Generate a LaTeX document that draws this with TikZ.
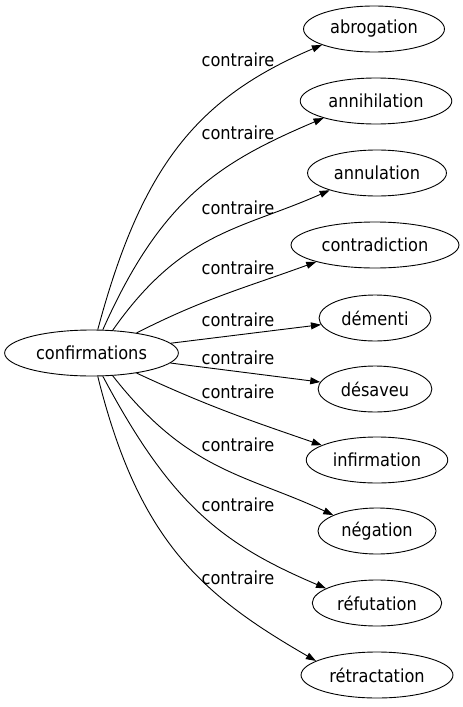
\documentclass[tikz,border=0pt]{standalone}
\usepackage{fontspec}
\setmainfont{DejaVu Sans}[FakeStretch=0.9]
\usetikzlibrary{arrows.meta, shapes.geometric}

\begin{document}
\begin{tikzpicture}
        [ x=1pt, y=1pt
        , word/.style={draw, ellipse, line width=0.9pt, inner xsep=6pt, inner ysep=2pt, minimum height=46pt, font=\fontsize{18}{20}\selectfont}
        , lbl/.style={font=\fontsize{18}{20}\selectfont}
        , rel/.style={-{Triangle[length=10pt,width=7pt]}, line width=0.9pt}
        , bent/.style={out looseness=1.2, in looseness=0.95}
        ]
        \useasboundingbox (0,0) rectangle (463,-707);

        \node (conf) [word] at (91.5,-353) {confirmations};

        \node (abro) [word] at (374,-29)  {abrogation};
        \node (anni) [word] at (376,-101) {annihilation};
        \node (annu) [word] at (377,-173) {annulation};
        \node (cont) [word] at (375,-245) {contradiction};
        \node (deme) [word] at (375,-318) {démenti};
        \node (desa) [word] at (375,-389) {désaveu};
        \node (infi) [word] at (377,-460) {infirmation};
        \node (nega) [word] at (377,-531) {négation};
        \node (refu) [word] at (377,-603) {réfutation};
        \node (retr) [word] at (377,-675) {rétractation};

        \node (l1)  [lbl] at (238,-60)  {contraire};
        \node (l2)  [lbl] at (238,-133) {contraire};
        \node (l3)  [lbl] at (238,-208) {contraire};
        \node (l4)  [lbl] at (238,-268) {contraire};
        \node (l5)  [lbl] at (238,-320) {contraire};
        \node (l6)  [lbl] at (238,-358) {contraire};
        \node (l7)  [lbl] at (238,-392) {contraire};
        \node (l8)  [lbl] at (238,-445) {contraire};
        \node (l9)  [lbl] at (238,-505) {contraire};
        \node (l10) [lbl] at (238,-578) {contraire};

        % upper fan
        \draw[rel] (conf.75) to[out=75, in=203, bent] (abro.197);
        \draw[rel] (conf.64) to[out=66, in=203, bent] (anni.198);
        \draw[rel] (conf.47) to[out=55, in=204, bent] (annu.200);
        \draw[rel] (conf.24) to[out=27, in=200] (cont.196);

        % middle
        \draw[rel] (conf) -- (deme);
        \draw[rel] (conf) -- (desa);

        % lower fan
        \draw[rel] (conf.-24) to[out=-25, in=161] (infi.165);
        \draw[rel] (conf.-47) to[out=-52, in=155, bent] (nega.160);
        \draw[rel] (conf.-64) to[out=-62, in=157, bent] (refu.164);
        \draw[rel] (conf.-75) to[out=-76, in=150, bent] (retr.167);

    \end{tikzpicture}
\end{document}
